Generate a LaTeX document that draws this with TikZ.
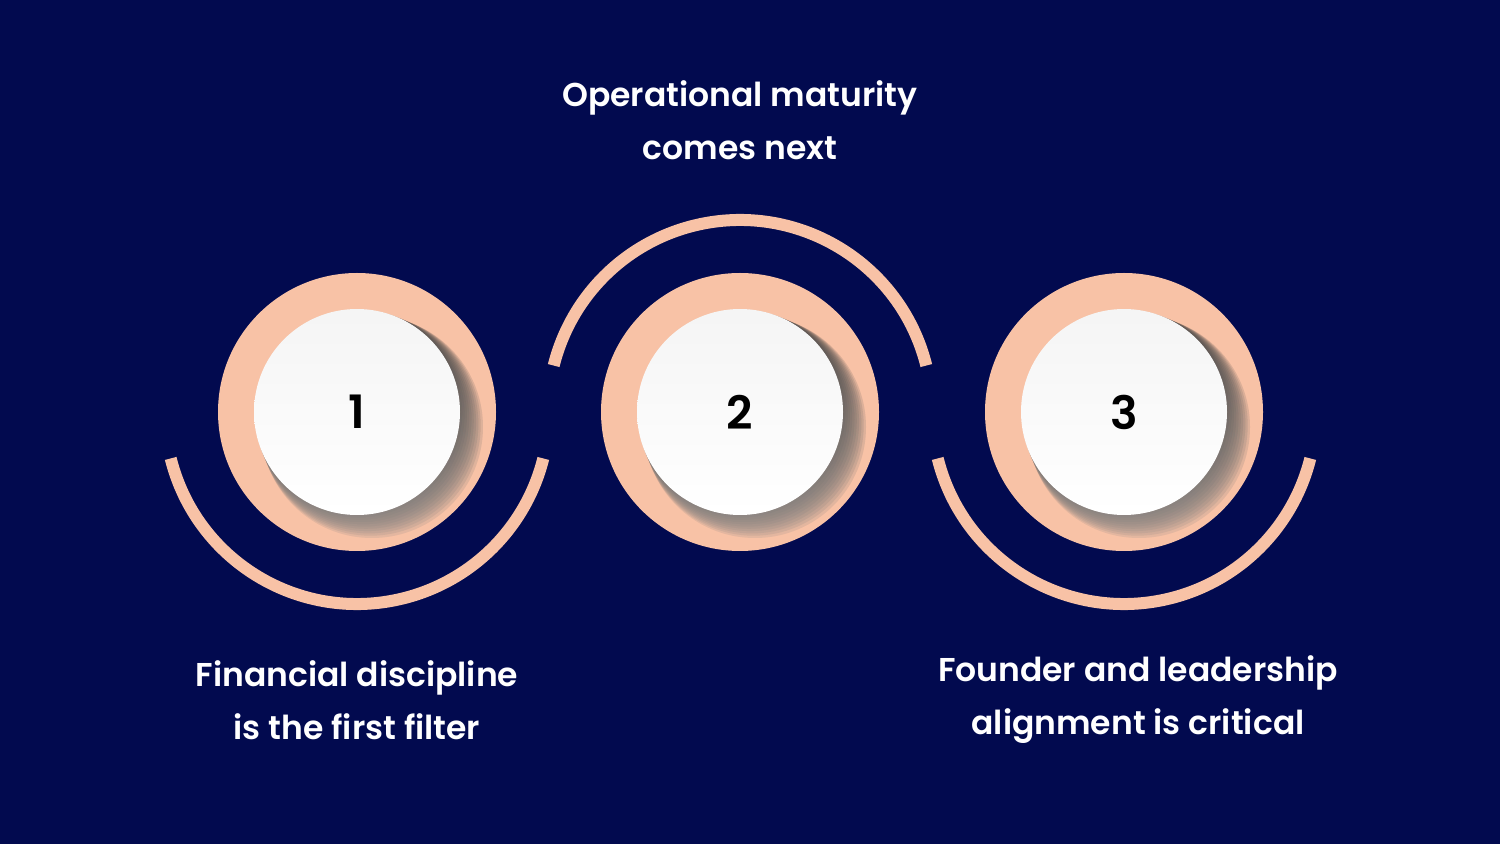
\documentclass[tikz,border=0pt]{standalone}
\usepackage{fontspec}
\setmainfont{Poppins}
\newfontfamily\popsb{Poppins SemiBold}
\definecolor{navy}{HTML}{020A4F}
\definecolor{peach}{HTML}{F8C2A6}
\definecolor{shade}{HTML}{B88A78}
\begin{document}
\begin{tikzpicture}[x=1pt,y=1pt,
  lbl/.style={text=white,font=\popsb\fontsize{33}{53}\selectfont,align=center},
  num/.style={font=\popsb\fontsize{46}{50}\selectfont,text=black},
  ring/.style={draw=peach,line width=12pt}]
\fill[navy] (0,0) rectangle (1500,844);
\useasboundingbox (0,0) rectangle (1500,844);
\foreach \cx/\n in {357/1,740/2,1124/3}{
  \fill[peach] (\cx,432) circle (139);
  \foreach \k in {1,...,10}{
    \fill[shade,opacity=0.09] (\cx+1.5*\k,432-1.5*\k) circle (103+0.8*\k);
  }
  \shade[top color=white!92!gray,bottom color=white] (\cx,432) circle (103);
  \node[num] (n\n) at (\cx,432) {\n};
}
\draw[ring] (357,432) ++(-166:192) arc (-166:-14:192);
\draw[ring] (1124,432) ++(-166:192) arc (-166:-14:192);
\draw[ring] (740,432) ++(14:192) arc (14:166:192);
\node[lbl] (t1) at (357,144) {Financial discipline\\is the first filter};
\node[lbl] (t2) at (740,724) {Operational maturity\\comes next};
\node[lbl] (t3) at (1138,144) {Founder and leadership\\alignment is critical};
\end{tikzpicture}
\end{document}
